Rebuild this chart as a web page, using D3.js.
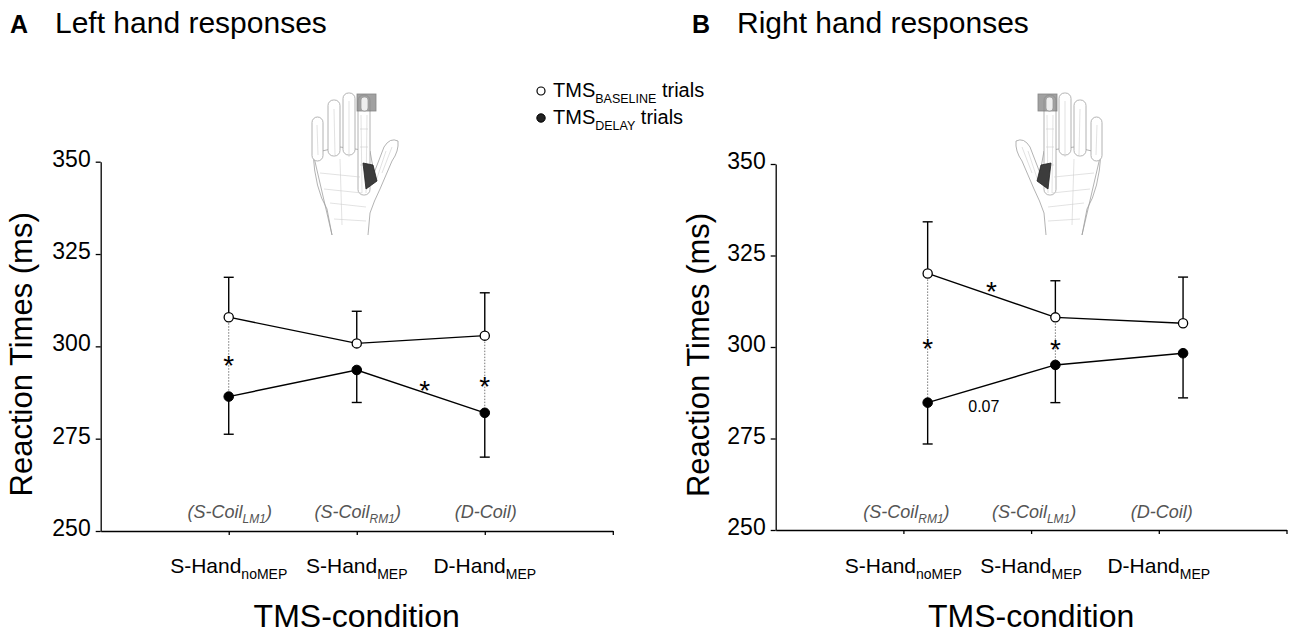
<!DOCTYPE html>
<html>
<head>
<meta charset="utf-8">
<script src="https://cdn.jsdelivr.net/npm/d3@7"></script>
<style>
  html, body { margin: 0; padding: 0; background: #fff; }
  text { font-family: "Liberation Sans", Arial, sans-serif; }
</style>
</head>
<body>
<svg id="chart"></svg>
<script>
const W = 1300;
const H = 637;

// categories on the x axis (main text + subscript)
const condNames = ["S-Hand", "S-Hand", "D-Hand"];
const condSubs = ["noMEP", "MEP", "MEP"];
const coilLeft = [["(S-Coil", "LM1", ")"], ["(S-Coil", "RM1", ")"], ["(D-Coil)", "", ""]];
const coilRight = [["(S-Coil", "RM1", ")"], ["(S-Coil", "LM1", ")"], ["(D-Coil)", "", ""]];
const yTicks = [250, 275, 300, 325, 350];

// A: left hand responses
const leftBaseline = [307.9, 300.8, 302.9];
const leftBaselineErr = [10.8, 8.7, 11.6];
const leftDelay = [286.4, 293.6, 282.0];
const leftDelayErr = [10.2, 8.8, 12.0];
const leftPaired = [1, 3];
const leftStars = [[1, 296.8], [2.53, 290.0], [3, 291.1]];

// B: right hand responses
const rightBaseline = [320.1, 308.1, 306.5];
const rightBaselineErr = [14.1, 10.0, 12.6];
const rightDelay = [284.8, 295.1, 298.3];
const rightDelayErr = [11.3, 10.3, 12.2];
const rightPaired = [1, 2];
const rightStars = [[1, 301.7], [1.5, 317.2], [2, 301.2]];
const rightTrend = [[1.44, 283.9, "0.07"]];

const svg = d3.select("#chart").attr("width", W).attr("height", H);

function drawHand(x, y, mirror) {
	let g = svg.append("g")
		.attr("transform", mirror ? `translate(${x},${y}) scale(-1,1)` : `translate(${x},${y})`)
		.attr("fill", "#fff").attr("stroke", "#a0a0a0").attr("stroke-width", 0.8);
	// palm, thumb, wrist
	g.append("path").attr("d", "M13,68 L40,62 L70,66 L74,88 L84,62 Q90,52 98,56 Q99,66 92,76 L80,104 Q74,116 70,128 L68,150 M32,150 L27,124 Q15,104 13,68 Z");
	// fingers: little, ring, middle, index
	[[12, 32, 11, 44], [28, 15, 12, 56], [43, 8, 12, 62], [58, 10, 12, 100]].forEach(f => {
		g.append("rect").attr("x", f[0]).attr("y", f[1]).attr("width", f[2]).attr("height", f[3]).attr("rx", 5.5);
	});
	// sketchy lines (bones, creases)
	[[17, 40, 18, 70], [34, 24, 35, 70], [49, 16, 49, 72], [61, 30, 62, 108], [67, 30, 66, 108],
	 [60, 44, 68, 44], [60, 62, 68, 62], [60, 80, 68, 80], [20, 88, 60, 92], [24, 104, 62, 108],
	 [30, 118, 66, 122], [34, 134, 66, 136], [86, 66, 76, 96], [92, 62, 82, 88], [40, 74, 42, 140]].forEach(l => {
		g.append("line").attr("x1", l[0]).attr("y1", l[1]).attr("x2", l[2]).attr("y2", l[3])
			.attr("stroke", "#cfcfcf").attr("stroke-width", 0.6);
	});
	// electrode on the index finger
	g.append("rect").attr("x", 57).attr("y", 9).attr("width", 19).attr("height", 17)
		.attr("fill", "#8a8a8a").attr("stroke", "#6a6a6a").attr("opacity", 0.8);
	g.append("rect").attr("x", 61).attr("y", 12).attr("width", 7).attr("height", 14)
		.attr("fill", "#eee").attr("stroke", "#999").attr("rx", 3);
	// FDI muscle
	g.append("path").attr("d", "M63,78 L73,80 L77,96 L66,104 Z").attr("fill", "#3c3c3c").attr("stroke", "#222");
}

function richText(parent, x, y, parts, size, subSize, anchor, style) {
	let t = parent.append("text").attr("x", x).attr("y", y)
		.attr("text-anchor", anchor).attr("font-size", size);
	if (style) t.attr("font-style", style.italic ? "italic" : null).attr("fill", style.fill || "#000");
	t.append("tspan").text(parts[0]);
	if (parts[1]) t.append("tspan").attr("font-size", subSize).attr("dy", size * 0.28).text(parts[1]);
	if (parts[2]) t.append("tspan").attr("dy", parts[1] ? -size * 0.28 : 0).text(parts[2]);
	return t;
}

function drawPanel(p) {
	let x = d3.scaleLinear().domain([0, 4]).range(p.xRange);
	let y = d3.scaleLinear().domain([250, 350]).range(p.yRange);
	let px = i => x(i + 1 + p.shift);
	let g = svg.append("g");

	g.append("g").attr("transform", `translate(${p.xRange[0]},0)`)
		.call(d3.axisLeft(y).tickValues(yTicks).tickSize(5).tickSizeOuter(0).tickPadding(5))
		.call(a => a.selectAll("text").attr("font-size", 23).attr("dy", "0.2em")
			.attr("font-family", "Liberation Sans, Arial, sans-serif").attr("fill", "#000"))
		.call(a => a.selectAll("path,line").attr("stroke", "#000").attr("stroke-width", 1.3));
	g.append("g").attr("transform", `translate(0,${p.yRange[0]})`)
		.call(d3.axisBottom(x).tickValues([1, 2, 3, 4]).tickFormat("").tickSize(4).tickSizeOuter(0))
		.call(a => a.selectAll("path,line").attr("stroke", "#000").attr("stroke-width", 1.3));

	// category labels and coil labels
	condNames.forEach((n, i) => {
		richText(g, x(i + 1), 573, [n, condSubs[i]], 21, 14, "middle");
		richText(g, x(i + 1) + p.coilDx, 518, p.coil[i], 18, 12, "middle", {italic: true, fill: "#555"});
	});
	g.append("text").attr("x", x(2)).attr("y", 627).attr("text-anchor", "middle")
		.attr("font-size", 32).text("TMS-condition");
	g.append("text").attr("transform", `translate(${p.yTitleX},${(p.yRange[0] + p.yRange[1]) / 2 + 8}) rotate(-90)`)
		.attr("text-anchor", "middle").attr("font-size", 31).text("Reaction Times (ms)");

	// panel title
	g.append("text").attr("x", p.titleX).attr("y", 33).attr("font-size", 25).attr("font-weight", "bold").text(p.letter);
	g.append("text").attr("x", p.titleX + 45).attr("y", 33).attr("font-size", 30).text(p.title);

	// dotted paired comparisons
	p.paired.forEach(c => {
		g.append("line").attr("x1", px(c - 1)).attr("x2", px(c - 1))
			.attr("y1", y(p.base[c - 1])).attr("y2", y(p.delay[c - 1]))
			.attr("stroke", "#777").attr("stroke-width", 1).attr("stroke-dasharray", "1.5,1.5");
	});

	// error bars (baseline up, delay down)
	let bars = [];
	p.base.forEach((v, i) => bars.push([i, v, v + p.baseErr[i]]));
	p.delay.forEach((v, i) => bars.push([i, v, v - p.delayErr[i]]));
	bars.forEach(b => {
		g.append("line").attr("x1", px(b[0])).attr("x2", px(b[0])).attr("y1", y(b[1])).attr("y2", y(b[2]))
			.attr("stroke", "#000").attr("stroke-width", 1.4);
		g.append("line").attr("x1", px(b[0]) - 5).attr("x2", px(b[0]) + 5).attr("y1", y(b[2])).attr("y2", y(b[2]))
			.attr("stroke", "#000").attr("stroke-width", 1.4);
	});

	let line = d3.line().x((d, i) => px(i)).y(d => y(d));
	[p.base, p.delay].forEach(s => {
		g.append("path").datum(s).attr("d", line).attr("fill", "none").attr("stroke", "#000").attr("stroke-width", 1.4);
	});
	g.selectAll(".open").data(p.base).enter().append("circle")
		.attr("cx", (d, i) => px(i)).attr("cy", d => y(d)).attr("r", 4.6)
		.attr("fill", "#fff").attr("stroke", "#000").attr("stroke-width", 1.3);
	g.selectAll(".filled").data(p.delay).enter().append("circle")
		.attr("cx", (d, i) => px(i)).attr("cy", d => y(d)).attr("r", 4.8)
		.attr("fill", "#000").attr("stroke", "#000").attr("stroke-width", 1);

	p.stars.forEach(s => {
		g.append("text").attr("x", x(s[0] + p.shift)).attr("y", y(s[1])).attr("dy", "0.6em")
			.attr("text-anchor", "middle").attr("font-size", 28).text("*");
	});
	(p.trend || []).forEach(s => {
		g.append("text").attr("x", x(s[0] + p.shift)).attr("y", y(s[1])).attr("dy", "0.36em")
			.attr("text-anchor", "middle").attr("font-size", 16).text(s[2]);
	});
}

drawHand(300, 85, false);
drawHand(1114, 85, true);

drawPanel({
	letter: "A", title: "Left hand responses", titleX: 10,
	xRange: [100.7, 612.8], yRange: [531, 161.7], shift: 0, coilDx: 1, yTitleX: 32,
	coil: coilLeft, base: leftBaseline, baseErr: leftBaselineErr, delay: leftDelay, delayErr: leftDelayErr,
	paired: leftPaired, stars: leftStars
});
drawPanel({
	letter: "B", title: "Right hand responses", titleX: 692,
	xRange: [775.7, 1286.5], yRange: [530, 164], shift: 0.19, coilDx: 3, yTitleX: 709,
	coil: coilRight, base: rightBaseline, baseErr: rightBaselineErr, delay: rightDelay, delayErr: rightDelayErr,
	paired: rightPaired, stars: rightStars, trend: rightTrend
});

// legend
const legend = svg.append("g");
legend.append("circle").attr("cx", 541).attr("cy", 91).attr("r", 4).attr("fill", "#fff").attr("stroke", "#000").attr("stroke-width", 1.2);
legend.append("circle").attr("cx", 541).attr("cy", 118).attr("r", 4.2).attr("fill", "#222").attr("stroke", "#000");
richText(legend, 553, 97, ["TMS", "BASELINE", " trials"], 20, 12.5, "start");
richText(legend, 553, 124, ["TMS", "DELAY", " trials"], 20, 12.5, "start");
</script>
</body>
</html>
